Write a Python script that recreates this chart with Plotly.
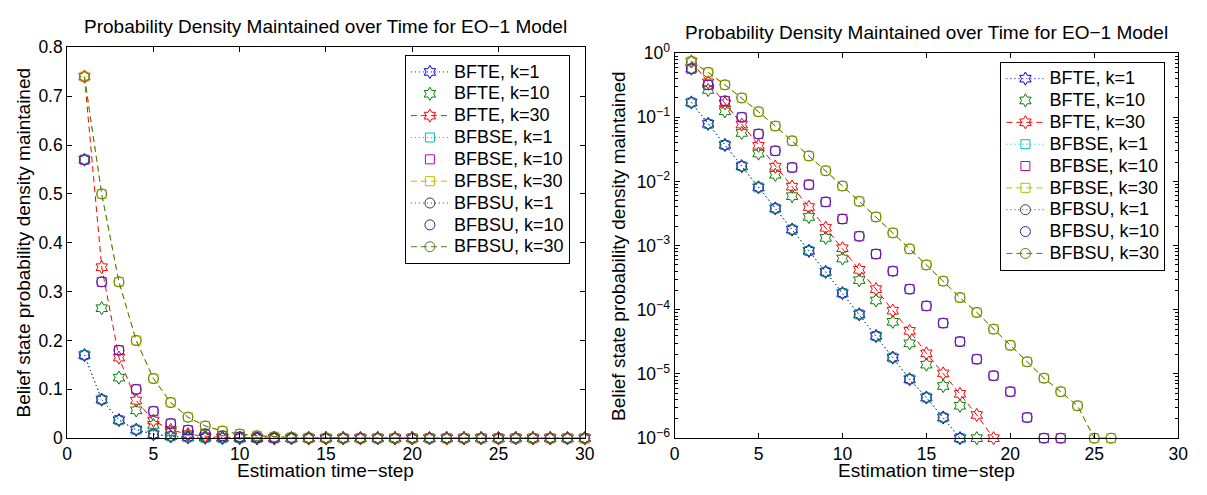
import plotly.graph_objects as go

# ---------------- data ----------------
steps = list(range(1, 31))

bfte_k1 = [0.17, 0.079, 0.037, 0.0173, 0.0081, 0.0038, 0.00178, 0.00083, 0.00039, 0.000182,
           8.5e-5, 3.9e-5, 1.8e-5, 8.3e-6, 4.3e-6, 2.1e-6, 1.0e-6] + [0.0] * 13
bfte_k10 = [0.57, 0.266, 0.124, 0.057, 0.0272, 0.0127, 0.0059, 0.0028, 0.00132, 0.00063,
            0.00029, 0.00014, 6.5e-5, 3.0e-5, 1.4e-5, 6.5e-6, 3.2e-6, 1.0e-6] + [0.0] * 12
bfte_k30 = [0.74, 0.35, 0.165, 0.077, 0.036, 0.017, 0.0083, 0.004, 0.0019, 0.00091,
            0.00042, 0.00021, 9.7e-5, 4.7e-5, 2.1e-5, 1.02e-5, 4.9e-6, 2.3e-6, 1.0e-6] + [0.0] * 11
bfbse_k1 = [0.17, 0.079, 0.037, 0.0173, 0.0081, 0.0038, 0.00178, 0.00083, 0.00039, 0.000182,
            8.5e-5, 3.9e-5, 1.8e-5, 8.3e-6, 4.3e-6, 2.1e-6, 1.0e-6] + [0.0] * 13
bfbse_k10 = [0.57, 0.32, 0.18, 0.1, 0.055, 0.030, 0.0165, 0.0089, 0.0048, 0.0026,
             0.0014, 0.00074, 0.0004, 0.00021, 0.000115, 6.2e-5, 3.2e-5, 1.7e-5, 9.4e-6, 5.3e-6,
             2.1e-6, 1.0e-6, 1.0e-6] + [0.0] * 7
bfbse_k30 = [0.74, 0.50, 0.32, 0.2, 0.122, 0.073, 0.043, 0.025, 0.0147, 0.0085,
             0.0049, 0.0028, 0.00158, 0.00089, 0.0005, 0.00028, 0.000155, 9.1e-5, 5.0e-5, 2.8e-5,
             1.55e-5, 8.6e-6, 5.3e-6, 3.2e-6, 1.0e-6, 1.0e-6] + [0.0] * 4
bfbsu_k1 = list(bfbse_k1)
bfbsu_k10 = list(bfbse_k10)
bfbsu_k30 = list(bfbse_k30)

series_names = ["BFTE, k=1", "BFTE, k=10", "BFTE, k=30",
                "BFBSE, k=1", "BFBSE, k=10", "BFBSE, k=30",
                "BFBSU, k=1", "BFBSU, k=10", "BFBSU, k=30"]
series_values = [bfte_k1, bfte_k10, bfte_k30,
                 bfbse_k1, bfbse_k10, bfbse_k30,
                 bfbsu_k1, bfbsu_k10, bfbsu_k30]

lin_ticks = [0, 0.1, 0.2, 0.3, 0.4, 0.5, 0.6, 0.7, 0.8]
lin_ticktext = ["0", "0.1", "0.2", "0.3", "0.4", "0.5", "0.6", "0.7", "0.8"]
log_ticks = [1e-6, 1e-5, 1e-4, 1e-3, 1e-2, 1e-1, 1]
log_ticktext = ["10<sup>\u22126</sup>", "10<sup>\u22125</sup>", "10<sup>\u22124</sup>",
                "10<sup>\u22123</sup>", "10<sup>\u22122</sup>", "10<sup>\u22121</sup>",
                "10<sup>0</sup>"]
x_ticks = [0, 5, 10, 15, 20, 25, 30]

title_text = "Probability Density Maintained over Time for EO\u22121 Model"
xlabel_text = "Estimation time\u2212step"
ylabel_text = "Belief state probability density maintained"

# ---------------- styles ----------------
styles = [
    dict(color="rgb(0,0,255)", symbol="hexagram-open", size=10, mode="lines+markers", dash="1px,3px"),
    dict(color="rgb(0,128,0)", symbol="hexagram-open", size=10, mode="markers", dash="solid"),
    dict(color="rgb(255,0,0)", symbol="hexagram-open", size=10, mode="lines+markers", dash="6px,4px"),
    dict(color="rgb(0,191,191)", symbol="square-open", size=9, mode="lines+markers", dash="1px,3px"),
    dict(color="rgb(191,0,191)", symbol="square-open", size=9, mode="markers", dash="solid"),
    dict(color="rgb(191,191,0)", symbol="square-open", size=9, mode="lines+markers", dash="6px,4px"),
    dict(color="rgb(64,64,64)", symbol="circle-open", size=10, mode="lines+markers", dash="1px,3px"),
    dict(color="rgb(40,40,160)", symbol="circle-open", size=10, mode="markers", dash="solid"),
    dict(color="rgb(80,125,25)", symbol="circle-open", size=10, mode="lines+markers", dash="6px,4px"),
]

FONT = "Liberation Sans, Arial, sans-serif"
W, H = 1207, 495

fig = go.Figure()
for name, vals, st in zip(series_names, series_values, styles):
    common = dict(
        mode=st["mode"], cliponaxis=False,
        name='<span style="font-size:18px">' + name + '</span>',
        marker=dict(symbol=st["symbol"], size=st["size"], color=st["color"],
                    line=dict(width=1, color=st["color"])),
        line=dict(color=st["color"], width=1, dash=st["dash"]),
    )
    fig.add_trace(go.Scatter(x=steps, y=vals, xaxis="x", yaxis="y", legend="legend", **common))
    logvals = [v if v > 0 else None for v in vals]
    fig.add_trace(go.Scatter(x=steps, y=logvals, xaxis="x2", yaxis="y2", legend="legend2", **common))

# ---------------- layout (pixel geometry) ----------------
L1, R1, T1, B1 = 63, 587, 37, 446
L2, R2, T2, B2 = 678, 1188, 43, 446

def px(x):
    return x / W

def py(y):
    return 1 - y / H

axis_common = dict(
    showline=True, linecolor="black", linewidth=1, mirror="ticks",
    ticks="inside", ticklen=5, tickcolor="black", tickwidth=1,
    showgrid=False, zeroline=False,
    tickfont=dict(family=FONT, size=17.5, color="black"),
)

legend_common = dict(
    bgcolor="white", bordercolor="black", borderwidth=1,
    font=dict(family=FONT, size=14.5, color="black"),
    tracegroupgap=0, itemwidth=38,
)

fig.update_layout(
    width=W, height=H,
    margin=dict(l=0, r=0, t=0, b=0),
    paper_bgcolor="white", plot_bgcolor="white",
    font=dict(family=FONT, size=18, color="black"),
    xaxis=dict(domain=[px(L1), px(R1)], anchor="y", range=[0, 30],
               tickvals=x_ticks, **axis_common),
    yaxis=dict(domain=[py(B1), py(T1)], anchor="x", range=[0, 0.8],
               tickvals=lin_ticks, ticktext=lin_ticktext, **axis_common),
    xaxis2=dict(domain=[px(L2), px(R2)], anchor="y2", range=[0, 30],
                tickvals=x_ticks, **axis_common),
    yaxis2=dict(domain=[py(B2), py(T2)], anchor="x2", type="log", range=[-6, 0],
                tickvals=log_ticks, ticktext=log_ticktext,
                minor=dict(ticks="inside", ticklen=3, tickcolor="black",
                           tickvals=[m * 10 ** e for e in range(-6, 0) for m in range(2, 10)]),
                **axis_common),
    legend=dict(x=px(572), xanchor="right", y=py(45), yanchor="top", **legend_common),
    legend2=dict(x=px(1175), xanchor="right", y=py(52), yanchor="top", **legend_common),
    showlegend=True,
)

annotations = []
for (L, R, T, B, ty) in [(L1, R1, T1, B1, 15), (L2, R2, T2, B2, 21)]:
    annotations.append(dict(text=title_text, x=px((L + R) / 2), y=py(ty), xref="paper", yref="paper",
                            xanchor="center", yanchor="middle", showarrow=False,
                            font=dict(family=FONT, size=19, color="black")))
    annotations.append(dict(text=xlabel_text, x=px((L + R) / 2), y=py(480), xref="paper", yref="paper",
                            xanchor="center", yanchor="middle", showarrow=False,
                            font=dict(family=FONT, size=19, color="black")))
annotations.append(dict(text=ylabel_text, x=px(19), y=py((T1 + B1) / 2), xref="paper", yref="paper",
                        xanchor="center", yanchor="middle", textangle=-90, showarrow=False,
                        font=dict(family=FONT, size=19, color="black")))
annotations.append(dict(text=ylabel_text, x=px(621), y=py((T2 + B2) / 2), xref="paper", yref="paper",
                        xanchor="center", yanchor="middle", textangle=-90, showarrow=False,
                        font=dict(family=FONT, size=19, color="black")))
fig.update_layout(annotations=annotations)

fig.write_html("out.html")
